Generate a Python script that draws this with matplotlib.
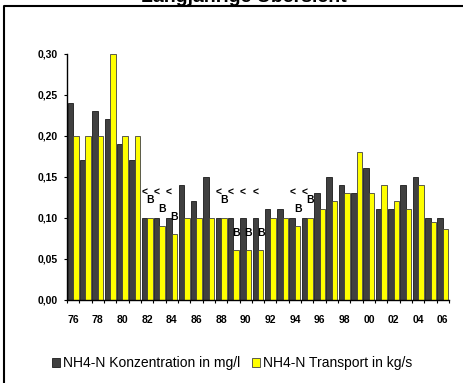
import matplotlib
matplotlib.use('Agg')
import matplotlib.pyplot as plt
from matplotlib.lines import Line2D
from matplotlib.patches import Patch
import numpy as np

# ---------------- data ----------------
years = ['76', '77', '78', '79', '80', '81', '82', '83', '84', '85', '86',
         '87', '88', '89', '90', '91', '92', '93', '94', '95', '96', '97',
         '98', '99', '00', '01', '02', '03', '04', '05', '06']
konzentration = [0.24, 0.17, 0.23, 0.22, 0.19, 0.17, 0.10, 0.10, 0.10, 0.14,
                 0.12, 0.15, 0.10, 0.10, 0.10, 0.10, 0.11, 0.11, 0.10, 0.10,
                 0.13, 0.15, 0.14, 0.13, 0.16, 0.11, 0.11, 0.14, 0.15, 0.10,
                 0.10]
transport = [0.20, 0.20, 0.20, 0.30, 0.20, 0.20, 0.10, 0.09, 0.08, 0.10,
             0.10, 0.10, 0.10, 0.06, 0.06, 0.06, 0.10, 0.10, 0.09, 0.10,
             0.11, 0.12, 0.13, 0.18, 0.13, 0.14, 0.12, 0.11, 0.14, 0.095,
             0.086]
lt_years = ['82', '83', '84', '88', '89', '90', '91', '94', '95']
b_years = ['82', '83', '84', '88', '89', '90', '91', '94', '95']
series_names = ['NH4-N Konzentration in mg/l', 'NH4-N Transport in kg/s']
title = 'Langjährige Übersicht'
yticks = [0.00, 0.05, 0.10, 0.15, 0.20, 0.25, 0.30]

dark_col = '#404040'
yellow_col = '#ffff00'

plt.rcParams['font.family'] = ['Liberation Sans', 'DejaVu Sans']

W, H = 464, 383
fig = plt.figure(figsize=(W / 100, H / 100), dpi=100)
ax = fig.add_axes([67 / W, 83.3 / H, 382 / W, 246.2 / H])

x = np.arange(len(years))
w = 0.446
ax.bar(x - w / 2, konzentration, w, color=dark_col, edgecolor='#1a1a1a', linewidth=0.6)
ax.bar(x + w / 2, transport, w, color=yellow_col, edgecolor='#404040', linewidth=0.6)

ax.set_xlim(-0.5, len(years) - 0.5)
ax.set_ylim(0, 0.30)

for s in ['top', 'right']:
    ax.spines[s].set_visible(False)
for s in ['left', 'bottom']:
    ax.spines[s].set_color('black')
    ax.spines[s].set_linewidth(1.0)

ax.set_yticks(yticks)
ax.set_yticklabels([f"{v:.2f}".replace('.', ',') for v in yticks],
                   fontsize=7.5, fontweight='bold')
ax.tick_params(axis='y', direction='out', length=2.5, width=0.8, pad=4.5)

ax.set_xticks(x[::2])
ax.set_xticklabels(years[::2], fontsize=7.5, fontweight='bold')
ax.set_xticks(np.arange(-0.5, len(years)), minor=True)
ax.tick_params(axis='x', which='major', length=0, pad=11)
ax.tick_params(axis='x', which='minor', direction='out', length=2.5, width=0.8)

for yy in lt_years:
    i = years.index(yy)
    ax.text(i - w / 2, konzentration[i] + 0.031, '<', ha='center', va='center',
            fontsize=7.5, fontweight='bold')
for yy in b_years:
    i = years.index(yy)
    ax.text(i + w / 2, transport[i] + 0.021, 'B', ha='center', va='center',
            fontsize=7.5, fontweight='bold')

handles = [Patch(facecolor=dark_col, edgecolor='#1a1a1a', linewidth=0.6),
           Patch(facecolor=yellow_col, edgecolor='#404040', linewidth=0.6)]
fig.legend(handles=handles, labels=series_names, loc='center',
           bbox_to_anchor=(0.5, (H - 363) / H), ncol=2, frameon=False,
           fontsize=10, handlelength=0.6, handleheight=0.6, handletextpad=0.2,
           columnspacing=0.8, borderaxespad=0, borderpad=0)

fig.text(244 / W, 1 - 2.5 / H, title, ha='center', va='baseline',
         fontsize=14, fontweight='bold')

fig.add_artist(Line2D([4 / W, 4 / W, 1], [0, 1 - 5.5 / H, 1 - 5.5 / H],
                      transform=fig.transFigure, color='black', linewidth=1.5))

fig.savefig('out.png', dpi=100)
